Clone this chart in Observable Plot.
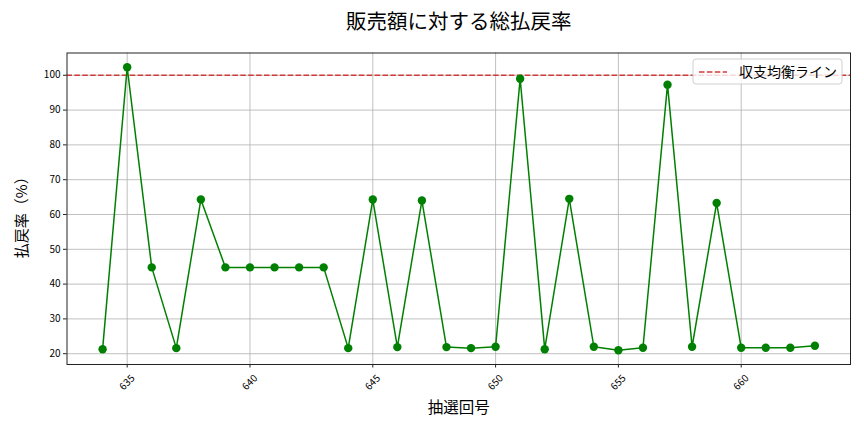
<!DOCTYPE html>
<html>
<head>
<meta charset="utf-8">
<script src="https://cdn.jsdelivr.net/npm/d3@7"></script>
<script src="https://cdn.jsdelivr.net/npm/@observablehq/plot@0.6"></script>
<style>
  html, body { margin: 0; padding: 0; background: #fff; }
  #chart { width: 864px; height: 432px; }
</style>
</head>
<body>
<div id="chart"></div>
<script>
const draws = [634,635,636,637,638,639,640,641,642,643,644,645,646,647,648,649,650,651,652,653,654,655,656,657,658,659,660,661,662,663];
const rates = [21.3,102.3,44.8,21.6,64.3,44.8,44.8,44.8,44.8,44.8,21.6,64.3,21.9,64.0,21.9,21.6,22.0,99.0,21.3,64.5,22.0,21.0,21.7,97.3,22.0,63.3,21.7,21.7,21.7,22.3];
const xTicks = [635,640,645,650,655,660];
const yTicks = [20,30,40,50,60,70,80,90,100];
const breakEven = [100];
const titleText = "販売額に対する総払戻率";
const xLabel = "抽選回号";
const yLabel = "払戻率（%）";
const legendLabel = "収支均衡ライン";

const data = draws.map((d, i) => ({draw: d, rate: rates[i]}));
const jp = "'Noto Sans CJK JP', 'Noto Sans', sans-serif";
const red = "#d43a3a";

const chart = Plot.plot({
  width: 864,
  height: 432,
  marginTop: 52.5,
  marginRight: 14,
  marginBottom: 68,
  marginLeft: 66.5,
  style: {fontFamily: jp, fontSize: "10px", color: "#000", background: "#fff"},
  x: {domain: [632.55, 664.45], ticks: xTicks},
  y: {domain: [16.9, 106.4], ticks: yTicks},
  marks: [
    Plot.gridX(xTicks, {stroke: "#b0b0b0", strokeOpacity: 1, strokeWidth: 0.8}),
    Plot.gridY(yTicks, {stroke: "#b0b0b0", strokeOpacity: 1, strokeWidth: 0.8}),
    Plot.ruleY(breakEven, {stroke: red, strokeWidth: 1.5, strokeDasharray: "5.5,2.4"}),
    Plot.line(data, {x: "draw", y: "rate", stroke: "green", strokeWidth: 1.5}),
    Plot.dot(data, {x: "draw", y: "rate", fill: "green", r: 4.2, stroke: "none"}),
    Plot.frame({stroke: "#222", strokeWidth: 1}),
    Plot.axisX(xTicks, {tickSize: 3.5, text: null, label: null, stroke: "#222"}),
    Plot.text(xTicks, {x: d => d, frameAnchor: "bottom", dy: 18, rotate: -45, textAnchor: "middle", lineAnchor: "middle", fontSize: 10, fill: "#000"}),
    Plot.axisY(yTicks, {tickSize: 3.5, label: null, fontSize: 10, tickPadding: 3, stroke: "#222"}),
    Plot.text([titleText], {frameAnchor: "top", dy: -30.5, fontSize: 20.5, fill: "#000", lineAnchor: "middle"}),
    Plot.text([xLabel], {frameAnchor: "bottom", dy: 44, fontSize: 15.5, fill: "#000", lineAnchor: "middle"}),
    Plot.text([yLabel], {frameAnchor: "left", dx: -44.5, dy: 5, rotate: -90, textAnchor: "middle", fontSize: 15, fill: "#000", lineAnchor: "middle"})
  ]
});

const svg = d3.select(chart);
const lg = svg.append("g").attr("text-anchor", "start");
lg.append("rect").attr("x", 693).attr("y", 59).attr("width", 149).attr("height", 25).attr("rx", 3)
  .attr("fill", "#fff").attr("fill-opacity", 0.8).attr("stroke", "#d0d0d0").attr("stroke-width", 1);
lg.append("line").attr("x1", 699).attr("x2", 727).attr("y1", 72).attr("y2", 72)
  .attr("stroke", red).attr("stroke-width", 1.5).attr("stroke-dasharray", "5.5,2.4");
lg.append("text").attr("x", 739).attr("y", 72).attr("dy", "0.36em").attr("font-size", 14)
  .attr("text-anchor", "start").attr("font-family", jp).attr("fill", "#000").text(legendLabel);

document.getElementById("chart").appendChild(chart);
</script>
</body>
</html>
